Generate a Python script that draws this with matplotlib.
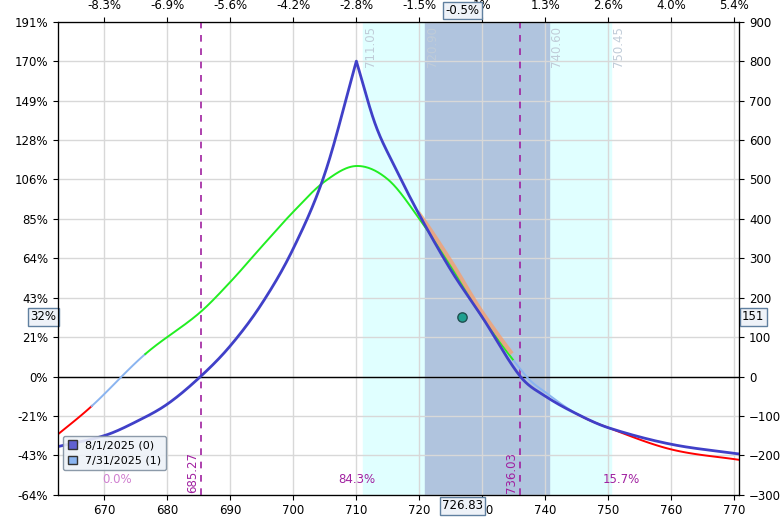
import numpy as np
import matplotlib.pyplot as plt
from matplotlib.patches import Patch

# expiration curve (8/1/2025), left and right of the peak
x0_left = [662, 670, 675, 680, 685.27, 690, 695, 700, 705, 710]
y0_left = [-180, -150, -115, -70, 0, 78, 185, 325, 515, 800]
x0_right = [710, 713, 716, 720, 725, 730, 736.03, 740, 745, 750, 760, 771]
y0_right = [800, 640, 535, 410, 270, 150, 0, -50, -95, -130, -172, -197]
# T+1 curve (7/31/2025)
x1 = [662, 668, 676.5, 685, 690, 695, 700, 705, 710, 715, 720, 725, 730, 737, 740, 745, 750, 760, 771]
y1 = [-155, -75, 57, 160, 240, 330, 418, 495, 534, 500, 400, 280, 150, 0, -40, -95, -130, -185, -212]

top_ticks = [670, 680, 690, 700, 710, 720, 730, 740, 750, 760, 770]
top_labels = ['-8.3%', '-6.9%', '-5.6%', '-4.2%', '-2.8%', '-1.5%', '1%', '1.3%', '2.6%', '4.0%', '5.4%']
r_ticks = list(range(-300, 901, 100))
l_labels = ['-64%', '-43%', '-21%', '0%', '21%', '43%', '64%', '85%', '106%', '128%', '149%', '170%', '191%']


def smooth(xp, yp, n=40):
    # Catmull-Rom through the read points, only to draw the curve smoothly
    xp = np.asarray(xp, float); yp = np.asarray(yp, float)
    xo, yo = [], []
    for i in range(len(xp) - 1):
        i0, i3 = max(i - 1, 0), min(i + 2, len(xp) - 1)
        m1 = (yp[i + 1] - yp[i0]) / (xp[i + 1] - xp[i0])
        m2 = (yp[i3] - yp[i]) / (xp[i3] - xp[i])
        h = xp[i + 1] - xp[i]
        t = np.linspace(0, 1, n)
        yo.append((2*t**3 - 3*t**2 + 1)*yp[i] + (t**3 - 2*t**2 + t)*h*m1
                  + (-2*t**3 + 3*t**2)*yp[i + 1] + (t**3 - t**2)*h*m2)
        xo.append(xp[i] + t*h)
    return np.concatenate(xo), np.concatenate(yo)


fig = plt.figure(figsize=(7.8, 5.17), dpi=100)
ax = fig.add_axes([0.074, 0.043, 0.874, 0.915])
ax.set_xlim(662.6, 770.8)
ax.set_ylim(-300, 900)

ax.axvspan(711.05, 750.45, color='#e0ffff', zorder=0)
ax.axvspan(720.90, 740.60, color='#b0c4de', zorder=0)
ax.grid(color='#d8d8d8', lw=1, zorder=1)
ax.axhline(0, color='black', lw=1, zorder=2)
for v in [685.27, 736.03]:
    ax.axvline(v, color='#a020a0', ls=(0, (4, 4)), lw=1.2, zorder=3)
    ax.text(v - 0.3, -295, f'{v:.2f}', rotation=90, color='#a020a0', fontsize=8.5, ha='right', va='bottom')
for v in [711.05, 720.90, 740.60, 750.45]:
    ax.text(v + 0.2, 890, f'{v:.2f}', rotation=90, color='#c0ccd8', fontsize=8.5, ha='left', va='top')

xs1, ys1 = smooth(x1, y1)
def seg(a, b, c):
    m = (xs1 >= a) & (xs1 <= b)
    ax.plot(xs1[m], ys1[m], color=c, lw=1.4, zorder=4)
seg(662, 668, 'red')
seg(668, 676.5, '#8ab4f0')
seg(676.5, 735, '#22ee22')
m = (xs1 >= 720) & (xs1 <= 734.5)
ax.plot(xs1[m], ys1[m] + 12, color='#f4a070', lw=3, alpha=0.8, zorder=4)
seg(735, 745, '#8ab4f0')
seg(745, 771, 'red')
xa, ya = smooth(x0_left, y0_left)
xb, yb = smooth(x0_right, y0_right)
ax.plot(np.concatenate([xa, xb]), np.concatenate([ya, yb]), color='#4040c8', lw=2, zorder=5)

ax.scatter([726.83], [151], s=45, color='#20a090', edgecolor='#205050', zorder=6)

ax.text(672, -270, '0.0%', color='#d080d0', fontsize=8.5, ha='center')
ax.text(710, -270, '84.3%', color='#a020a0', fontsize=8.5, ha='center')
ax.text(752, -270, '15.7%', color='#a020a0', fontsize=8.5, ha='center')

ax.set_yticks(r_ticks)
ax.set_yticklabels(l_labels, fontsize=8.5)
ax.set_xticks(top_ticks)
ax.set_xticklabels([str(t) for t in top_ticks], fontsize=8.5)
ax2 = ax.twinx()
ax2.set_ylim(-300, 900)
ax2.set_yticks(r_ticks)
ax2.tick_params(labelsize=8.5)
ax3 = ax.twiny()
ax3.set_xlim(ax.get_xlim())
ax3.set_xticks(top_ticks)
ax3.set_xticklabels(top_labels, fontsize=8.5)

box = dict(boxstyle='square,pad=0.2', fc='#eef2f8', ec='#6080a0')
ax.text(662.4, 151, '32%', ha='right', va='center', fontsize=8.5, bbox=box)
ax2.text(771.2, 151, '151', ha='left', va='center', fontsize=8.5, bbox=box, zorder=10)
ax.text(726.83, -312, '726.83', ha='center', va='top', fontsize=8.5, bbox=box, zorder=10)
ax3.text(726.83, 912, '-0.5%', ha='center', va='bottom', fontsize=8.5, bbox=box, zorder=10)

ax.legend(handles=[Patch(fc='#6060d0', ec='#333'), Patch(fc='#8ab4f0', ec='#333')],
          labels=['8/1/2025 (0)', '7/31/2025 (1)'], loc='lower left',
          bbox_to_anchor=(0.0, 0.04), fontsize=8, handlelength=0.8, handleheight=0.8,
          fancybox=True, framealpha=0.9, facecolor='#eef2f8', edgecolor='#8090a0')
fig.savefig('out.png')
